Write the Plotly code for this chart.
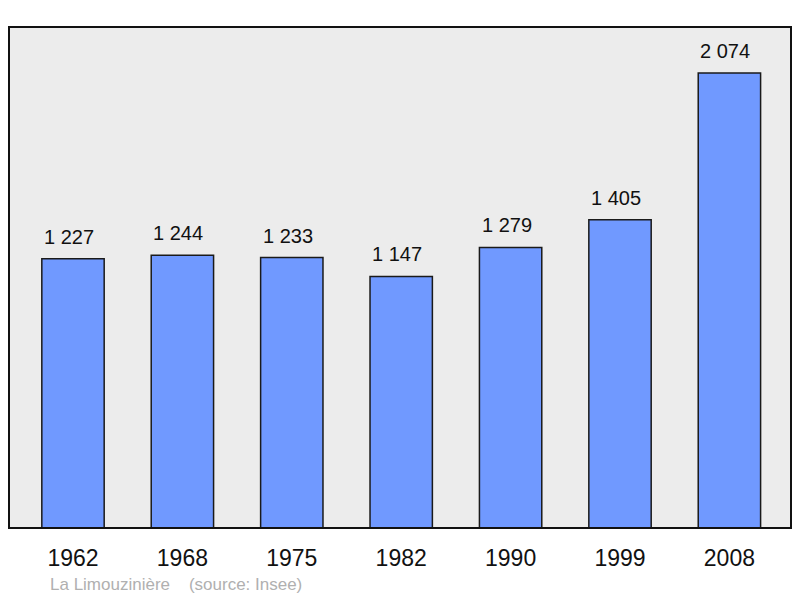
import plotly.graph_objects as go

years = ["1962", "1968", "1975", "1982", "1990", "1999", "2008"]
population = [1227, 1244, 1233, 1147, 1279, 1405, 2074]
labels = ["1 227", "1 244", "1 233", "1 147", "1 279", "1 405", "2 074"]

fig = go.Figure()
fig.add_trace(go.Bar(
    x=years, y=population, width=0.57,
    marker=dict(color="#7099ff", line=dict(color="#1a1a1a", width=1.5)),
    hoverinfo="skip",
))

# value labels above the bars (category index as x)
for i, (val, lab) in enumerate(zip(population, labels)):
    fig.add_annotation(x=i, y=val, text=lab, showarrow=False,
                       xshift=-4, yanchor="bottom", yshift=9,
                       font=dict(family="Liberation Sans, Arial", size=20, color="#111111"))

fig.add_annotation(xref="paper", yref="paper", x=0.0505, y=-0.1118,
                   xanchor="left", yanchor="middle",
                   text="La Limouzinière&nbsp;&nbsp;&nbsp;&nbsp;(source: Insee)",
                   showarrow=False,
                   font=dict(family="Liberation Sans, Arial", size=17, color="#b0b0b0"))

fig.add_shape(type="rect", xref="paper", yref="paper", x0=0, y0=0, x1=1, y1=1,
              line=dict(color="#111111", width=2), layer="above")

fig.update_layout(
    width=792, height=590,
    margin=dict(l=1, r=9, t=19, b=70),
    paper_bgcolor="white", plot_bgcolor="#ececec",
    showlegend=False,
)
fig.update_xaxes(type="category", range=[-0.585, 6.563], showgrid=False, zeroline=False,
                 ticks="outside", ticklen=9, tickcolor="rgba(0,0,0,0)",
                 tickfont=dict(family="Liberation Sans, Arial", size=23, color="#111111"))
fig.update_yaxes(range=[0, 2284], showgrid=False, zeroline=False,
                 showticklabels=False)

fig.write_html("out.html")
